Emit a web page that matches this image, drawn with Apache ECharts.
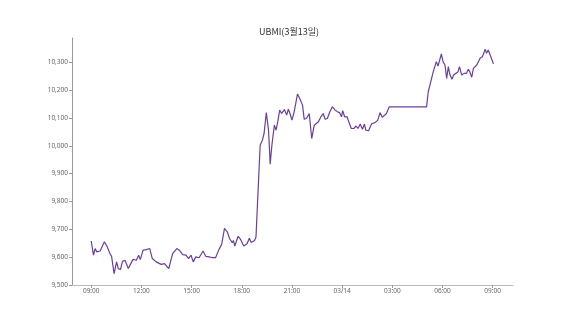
<!DOCTYPE html>
<html>
<head>
<meta charset="utf-8">
<script src="https://cdn.jsdelivr.net/npm/echarts@6/dist/echarts.min.js"></script>
<style>
html,body{margin:0;padding:0;background:#fff;}
#chart{width:570px;height:320px;}
</style>
</head>
<body>
<div id="chart"></div>
<script>
const times = [
"03-13 09:00","03-13 09:08","03-13 09:14","03-13 09:20","03-13 09:32","03-13 09:47","03-13 09:56","03-13 10:07","03-13 10:13","03-13 10:22",
"03-13 10:31","03-13 10:37","03-13 10:45","03-13 10:52","03-13 11:01","03-13 11:13","03-13 11:30","03-13 11:42","03-13 11:50","03-13 11:56",
"03-13 12:06","03-13 12:18","03-13 12:30","03-13 12:39","03-13 12:53","03-13 13:11","03-13 13:23","03-13 13:38","03-13 13:52","03-13 14:07",
"03-13 14:16","03-13 14:28","03-13 14:40","03-13 14:49","03-13 14:58","03-13 15:06","03-13 15:15","03-13 15:27","03-13 15:41","03-13 15:51",
"03-13 16:03","03-13 16:15","03-13 16:26","03-13 16:38","03-13 16:48","03-13 16:58","03-13 17:08","03-13 17:16","03-13 17:26","03-13 17:30",
"03-13 17:35","03-13 17:47","03-13 17:55","03-13 18:07","03-13 18:19","03-13 18:27","03-13 18:34","03-13 18:46","03-13 18:51","03-13 18:58",
"03-13 19:06","03-13 19:14","03-13 19:20","03-13 19:28","03-13 19:36","03-13 19:42","03-13 19:48","03-13 19:57","03-13 20:03","03-13 20:09",
"03-13 20:16","03-13 20:23","03-13 20:33","03-13 20:41","03-13 20:47","03-13 20:53","03-13 21:00","03-13 21:08","03-13 21:14","03-13 21:20",
"03-13 21:28","03-13 21:38","03-13 21:44","03-13 21:52","03-13 22:02","03-13 22:11","03-13 22:20","03-13 22:26","03-13 22:35","03-13 22:44",
"03-13 22:52","03-13 22:59","03-13 23:07","03-13 23:16","03-13 23:25","03-13 23:35","03-13 23:43","03-13 23:51","03-13 23:58","03-14 00:02",
"03-14 00:09","03-14 00:18","03-14 00:24","03-14 00:33","03-14 00:42","03-14 00:50","03-14 00:57","03-14 01:05","03-14 01:13","03-14 01:20",
"03-14 01:25","03-14 01:35","03-14 01:41","03-14 01:47","03-14 01:58","03-14 02:08","03-14 02:16","03-14 02:24","03-14 02:31","03-14 02:39",
"03-14 02:49","03-14 05:03","03-14 05:09","03-14 05:15","03-14 05:21","03-14 05:27","03-14 05:32","03-14 05:38","03-14 05:44","03-14 05:50",
"03-14 05:56","03-14 06:02","03-14 06:09","03-14 06:15","03-14 06:21","03-14 06:27","03-14 06:34","03-14 06:40","03-14 06:46","03-14 06:56",
"03-14 07:01","03-14 07:09","03-14 07:17","03-14 07:26","03-14 07:33","03-14 07:38","03-14 07:45","03-14 07:51","03-14 07:58","03-14 08:03",
"03-14 08:10","03-14 08:15","03-14 08:23","03-14 08:28","03-14 08:33","03-14 08:38","03-14 08:44","03-14 08:51","03-14 08:57","03-14 09:03"
];
const values = [
9658,9607,9631,9619,9622,9655,9640,9613,9603,9541,
9583,9559,9556,9585,9589,9559,9592,9589,9607,9591,
9625,9627,9631,9595,9583,9574,9577,9559,9613,9631,
9625,9609,9607,9595,9607,9583,9601,9598,9622,9603,
9601,9598,9598,9627,9646,9703,9691,9667,9652,9660,
9640,9675,9665,9640,9648,9668,9653,9660,9672,9672,
10002,10020,10044,10119,10056,9934,10002,10074,10056,10086,
10128,10116,10130,10110,10131,10116,10092,10122,10128,10186,
10170,10146,10095,10098,10116,10026,10074,10068,10086,10104,
10116,10095,10098,10122,10140,10128,10122,10119,10104,10126,
10104,10104,10086,10062,10062,10071,10062,10078,10059,10078,
10056,10054,10068,10080,10083,10092,10119,10102,10098,10116,
10140,10140,10194,10218,10212,10266,10272,10302,10286,10308,
10330,10302,10290,10242,10284,10254,10239,10254,10260,10266,
10284,10254,10260,10260,10275,10266,10246,10278,10272,10290,
10296,10314,10320,10332,10347,10332,10344,10326,10320,10294
];
const xTickTimes = ["03-13 09:00","03-13 12:00","03-13 15:00","03-13 18:00","03-13 21:00","03-14 00:00","03-14 03:00","03-14 06:00","03-14 09:00"];
const xTickLabels = ["09:00","12:00","15:00","18:00","21:00","03/14","03:00","06:00","09:00"];
const yTicks = [9500,9600,9700,9800,9900,10000,10100,10200,10300];
const xRange = ["03-13 07:51","03-14 10:13"];
const yRange = [9500,10387];
const titleText = "UBMI(3월13일)";

// minutes since 03-13 00:00
function toMin(s){
  const parts = s.split(' ');
  const md = parts[0].split('-').map(Number);
  const hm = parts[1].split(':').map(Number);
  return (md[1]-13)*1440 + hm[0]*60 + hm[1];
}
const xTickVals = xTickTimes.map(toMin);
const data = times.map((t,i)=>[toMin(t), values[i]]);

const chart = echarts.init(document.getElementById('chart'), null, {renderer:'canvas'});
chart.setOption({
  animation:false,
  backgroundColor:'#ffffff',
  title:{
    text:titleText,
    left:259,
    top:27,
    padding:0,
    textStyle:{fontFamily:'"Noto Sans CJK KR", sans-serif', fontSize:9, fontWeight:'normal', color:'#333'}
  },
  grid:{left:72,right:57,top:38,bottom:35},
  xAxis:{
    type:'value',
    min:toMin(xRange[0]),
    max:toMin(xRange[1]),
    splitLine:{show:false},
    axisLine:{lineStyle:{color:'#bbbbbb',width:1}},
    axisTick:{show:true,customValues:xTickVals,length:3,lineStyle:{color:'#999'}},
    axisLabel:{
      customValues:xTickVals,
      margin:3,
      fontSize:6.5,
      color:'#666',
      fontFamily:'"Noto Sans", sans-serif',
      formatter:function(v){const i=xTickVals.indexOf(v);return i>=0?xTickLabels[i]:'';}
    }
  },
  yAxis:{
    type:'value',
    min:yRange[0],
    max:yRange[1],
    splitLine:{show:false},
    axisLine:{show:true,lineStyle:{color:'#999999',width:1}},
    axisTick:{show:true,customValues:yTicks,length:3,lineStyle:{color:'#999'}},
    axisLabel:{
      customValues:yTicks,
      margin:4,
      fontSize:6.5,
      color:'#666',
      fontFamily:'"Noto Sans", sans-serif',
      formatter:function(v){return v.toLocaleString('en-US');}
    }
  },
  series:[{
    type:'line',
    data:data,
    showSymbol:false,
    symbol:'none',
    lineStyle:{color:'#6a3fa0',width:1.2},
    itemStyle:{color:'#6a3fa0'}
  }]
});
</script>
</body>
</html>
